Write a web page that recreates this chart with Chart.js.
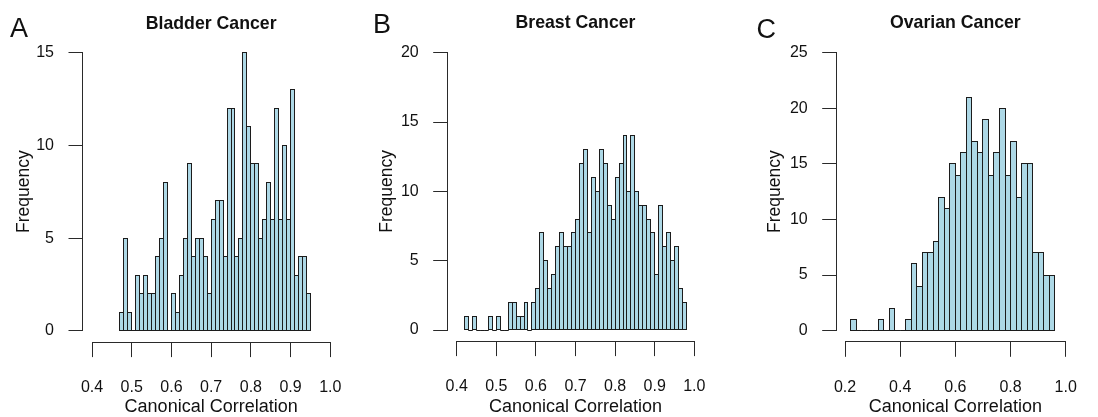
<!DOCTYPE html>
<html>
<head>
<meta charset="utf-8">
<script src="https://cdn.jsdelivr.net/npm/chart.js@4.4.1/dist/chart.umd.min.js"></script>
<style>
  html, body { margin: 0; padding: 0; background: #fff; }
  #figura { position: relative; width: 1098px; height: 417px; }
  .painel { position: absolute; top: 0; width: 366px; height: 417px; }
</style>
</head>
<body>
<div id="figura">
  <div class="painel" style="left:0px"><canvas id="graficoA" width="366" height="417"></canvas></div>
  <div class="painel" style="left:366px"><canvas id="graficoB" width="366" height="417"></canvas></div>
  <div class="painel" style="left:732px"><canvas id="graficoC" width="366" height="417"></canvas></div>
</div>
<script>
// Frequência de correlações canônicas por classe, em cada tipo de câncer
const contagensBexiga = [1, 5, 1, 0, 3, 2, 3, 2, 2, 4, 5, 8, 0, 2, 1, 3, 5, 9, 4, 5, 5, 4, 2, 6,
  7, 7, 4, 12, 12, 4, 5, 15, 11, 9, 9, 5, 6, 8, 6, 12, 6, 10, 6, 13, 3, 4, 4, 2];
const contagensMama = [1, 0, 1, 0, 0, 0, 1, 0, 1, 0, 0, 2, 2, 1, 1, 2, 0, 2, 3, 7, 5, 3, 4, 6, 7, 6, 6, 7,
  8, 12, 13, 7, 11, 10, 13, 12, 9, 8, 11, 12, 14, 10, 14, 10, 9, 9, 8, 7, 4, 9, 6, 7, 5, 6, 3, 2];
const contagensOvario = [1, 0, 0, 0, 0, 1, 0, 2, 0, 0, 1, 6, 4, 7, 7, 8, 12, 11, 15, 14, 16, 21,
  17, 16, 19, 14, 16, 20, 14, 17, 12, 15, 15, 7, 7, 5, 5];

// Início e largura das classes de cada histograma
const inicioBexiga = 0.47, larguraBexiga = 0.01;
const inicioMama = 0.42, larguraMama = 0.01;
const inicioOvario = 0.22, larguraOvario = 0.02;

// Marcas dos eixos
const ticksXBexiga = [0.4, 0.5, 0.6, 0.7, 0.8, 0.9, 1.0];
const ticksXMama = [0.4, 0.5, 0.6, 0.7, 0.8, 0.9, 1.0];
const ticksXOvario = [0.2, 0.4, 0.6, 0.8, 1.0];
const ticksYBexiga = [0, 5, 10, 15];
const ticksYMama = [0, 5, 10, 15, 20];
const ticksYOvario = [0, 5, 10, 15, 20, 25];

const titulos = ['Bladder Cancer', 'Breast Cancer', 'Ovarian Cancer'];
const letras = ['A', 'B', 'C'];

const fonte = '"Liberation Sans", Arial, sans-serif';
const corTexto = '#111';
const corLinha = '#2a2a2a';

// Posição de cada painel dentro do seu canvas (em px)
const paineis = [
  { id: 'graficoA', contagens: contagensBexiga, inicio: inicioBexiga, largura: larguraBexiga,
    ticksX: ticksXBexiga, ticksY: ticksYBexiga, titulo: titulos[0], letra: letras[0],
    esq: 82.5, dir: 339.8, topo: 41.3, base: 342.1, letraX: 10, letraY: 37.3, tituloY: 29, rotuloY: 23.7 },
  { id: 'graficoB', contagens: contagensMama, inicio: inicioMama, largura: larguraMama,
    ticksX: ticksXMama, ticksY: ticksYMama, titulo: titulos[1], letra: letras[1],
    esq: 81.2, dir: 337.8, topo: 41.6, base: 341.1, letraX: 7, letraY: 33.3, tituloY: 27.5, rotuloY: 20.7 },
  { id: 'graficoC', contagens: contagensOvario, inicio: inicioOvario, largura: larguraOvario,
    ticksX: ticksXOvario, ticksY: ticksYOvario, titulo: titulos[2], letra: letras[2],
    esq: 104.2, dir: 361.2, topo: 41.6, base: 341.8, letraX: 24.5, letraY: 38, tituloY: 28, rotuloY: 43.5 }
];

// Alinha uma coordenada ao meio do pixel, para linhas nítidas de 1px
function alinhar(p) {
  return Math.round(p - 0.5) + 0.5;
}

// Plugin: contorno das barras, eixos no estilo do R, título e letra do painel
const estiloR = {
  id: 'estiloR',
  afterDatasetsDraw(chart) {
    const ctx = chart.ctx;
    const meta = chart.getDatasetMeta(0);
    ctx.save();
    ctx.strokeStyle = '#1c1c1c';
    ctx.lineWidth = 1;
    meta.data.forEach(barra => {
      const { x, y, base, width } = barra.getProps(['x', 'y', 'base', 'width'], true);
      const l = alinhar(x - width / 2);
      const r = alinhar(x + width / 2);
      const t = alinhar(y);
      const b = alinhar(base);
      ctx.strokeRect(l, t, r - l, b - t);
    });
    ctx.restore();
  },
  afterDraw(chart, args, opts) {
    const { ctx, chartArea, scales } = chart;
    const sx = scales.x, sy = scales.y;
    ctx.save();
    ctx.strokeStyle = corLinha;
    ctx.lineWidth = 1;
    ctx.lineCap = 'square';
    ctx.beginPath();
    // eixo x só entre a primeira e a última marca
    const yEixo = alinhar(chartArea.bottom);
    ctx.moveTo(alinhar(sx.getPixelForValue(opts.ticksX[0])), yEixo);
    ctx.lineTo(alinhar(sx.getPixelForValue(opts.ticksX[opts.ticksX.length - 1])), yEixo);
    // eixo y só entre a primeira e a última marca
    const xEixo = alinhar(chartArea.left);
    ctx.moveTo(xEixo, alinhar(sy.getPixelForValue(opts.ticksY[0])));
    ctx.lineTo(xEixo, alinhar(sy.getPixelForValue(opts.ticksY[opts.ticksY.length - 1])));
    ctx.stroke();

    ctx.fillStyle = corTexto;
    ctx.textBaseline = 'alphabetic';
    ctx.font = 'bold 17.7px ' + fonte;
    ctx.textAlign = 'center';
    ctx.fillText(opts.titulo, (chartArea.left + chartArea.right) / 2, opts.tituloY);

    ctx.font = '27px ' + fonte;
    ctx.textAlign = 'left';
    ctx.fillText(opts.letra, opts.letraX, opts.letraY);
    ctx.restore();
  }
};

// Cria um histograma para cada painel
paineis.forEach(p => {
  const faixaX = p.ticksX[p.ticksX.length - 1] - p.ticksX[0];
  const topoY = p.ticksY[p.ticksY.length - 1];

  new Chart(document.getElementById(p.id), {
    type: 'bar',
    data: {
      datasets: [{
        data: p.contagens.map((c, i) => ({ x: p.inicio + (i + 0.5) * p.largura, y: c })),
        backgroundColor: '#add8e6',
        borderWidth: 0,
        barPercentage: 1,
        categoryPercentage: 1,
        inflateAmount: 0
      }]
    },
    options: {
      responsive: false,
      animation: false,
      events: [],
      layout: { padding: { left: 0, top: p.topo, right: 366 - p.dir, bottom: 0 } },
      plugins: {
        legend: { display: false },
        tooltip: { enabled: false },
        estiloR: {
          ticksX: p.ticksX, ticksY: p.ticksY, titulo: p.titulo, letra: p.letra,
          letraX: p.letraX, letraY: p.letraY, tituloY: p.tituloY
        }
      },
      scales: {
        x: {
          type: 'linear',
          offset: false,
          min: p.ticksX[0] - 0.04 * faixaX,
          max: p.ticksX[p.ticksX.length - 1] + 0.04 * faixaX,
          afterBuildTicks: s => { s.ticks = p.ticksX.map(v => ({ value: v })); },
          afterFit: s => { s.height = 417 - p.base; },
          grid: { display: true, drawOnChartArea: false, drawTicks: true, tickLength: 15, color: corLinha, offset: false },
          border: { display: false },
          ticks: {
            color: corTexto, font: { family: fonte, size: 16 }, padding: 21,
            maxRotation: 0, autoSkip: false, callback: v => Number(v).toFixed(1)
          },
          title: {
            display: true, text: 'Canonical Correlation', color: corTexto,
            font: { family: fonte, size: 18, lineHeight: 1 }, padding: { top: 0, bottom: 0.5 }
          }
        },
        y: {
          min: -0.04 * topoY,
          max: topoY * 1.04,
          afterBuildTicks: s => { s.ticks = p.ticksY.map(v => ({ value: v })); },
          afterFit: s => { s.width = p.esq; },
          grid: { display: true, drawOnChartArea: false, drawTicks: true, tickLength: 14, color: corLinha },
          border: { display: false },
          ticks: { color: corTexto, font: { family: fonte, size: 16 }, padding: 14.5, autoSkip: false },
          title: {
            display: true, text: 'Frequency', color: corTexto,
            font: { family: fonte, size: 17.5, lineHeight: 1 }, padding: { top: p.rotuloY - 8.75, bottom: 0 }
          }
        }
      }
    },
    plugins: [estiloR]
  });
});
</script>
</body>
</html>
